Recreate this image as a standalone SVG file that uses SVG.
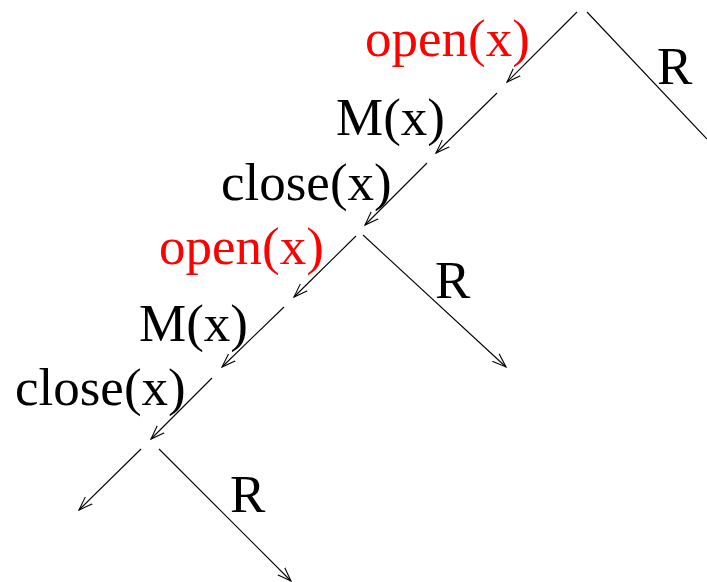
<svg xmlns="http://www.w3.org/2000/svg" width="707" height="582" viewBox="0 0 707 582">
<style>
.t{font-family:"Liberation Serif","Times New Roman",serif;font-size:53px;fill:#000}
.r{fill:#ff0000}
.c{stroke:#000;stroke-width:1.1;fill:none}
</style>
<defs>
<marker id="a" markerUnits="userSpaceOnUse" markerWidth="16" markerHeight="12" refX="14" refY="5" orient="auto" viewBox="0 0 16 10">
<path d="M0,0 L14,5 L0,10" fill="none" stroke="#000" stroke-width="1.1"/>
</marker>
</defs>
<rect width="707" height="582" fill="#fff"/>
<g id="connectors">
<line class="c" x1="577" y1="12" x2="507" y2="82" marker-end="url(#a)"/>
<line class="c" x1="587" y1="12" x2="707" y2="139"/>
<line class="c" x1="497" y1="93" x2="436" y2="153" marker-end="url(#a)"/>
<line class="c" x1="427" y1="163" x2="365" y2="225" marker-end="url(#a)"/>
<line class="c" x1="356" y1="236" x2="294" y2="297" marker-end="url(#a)"/>
<line class="c" x1="363" y1="235" x2="506" y2="367" marker-end="url(#a)"/>
<line class="c" x1="284" y1="307" x2="222" y2="367" marker-end="url(#a)"/>
<line class="c" x1="212" y1="378" x2="151" y2="439" marker-end="url(#a)"/>
<line class="c" x1="141" y1="449" x2="79" y2="510" marker-end="url(#a)"/>
<line class="c" x1="159" y1="449" x2="291" y2="581" marker-end="url(#a)"/>
</g>
<g id="open1"><text class="t r" x="365" y="56">open(x)</text></g>
<g id="m1"><text class="t" x="336" y="135">M(x)</text></g>
<g id="close1"><text class="t" x="221" y="200">close(x)</text></g>
<g id="r1"><text class="t" x="657" y="84">R</text></g>
<g id="open2"><text class="t r" x="159" y="264">open(x)</text></g>
<g id="m2"><text class="t" x="139" y="341">M(x)</text></g>
<g id="close2"><text class="t" x="15" y="405">close(x)</text></g>
<g id="r2"><text class="t" x="435" y="298">R</text></g>
<g id="r3"><text class="t" x="230" y="512">R</text></g>
</svg>
